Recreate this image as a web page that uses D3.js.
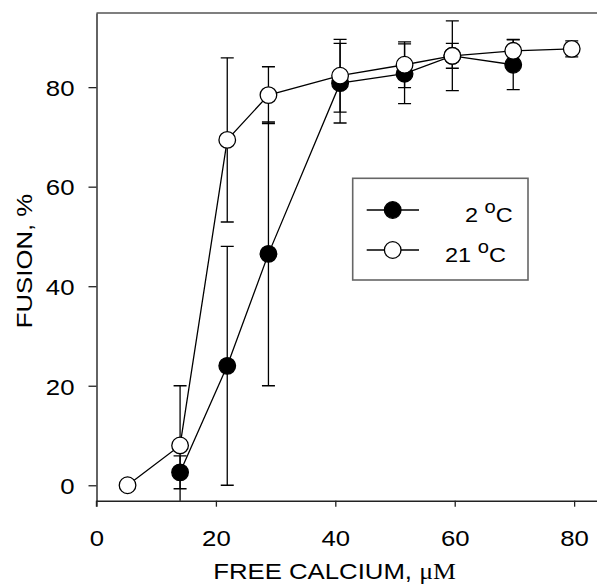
<!DOCTYPE html>
<html>
  <head>
    <meta charset="utf-8">
    <title>Fusion vs free calcium</title>
    <script src="https://d3js.org/d3.v7.min.js"></script>
    <style>
      body { margin: 0; background: #fff; }
    </style>
  </head>
  <body>
    <div id="chart"></div>
    <script>
      // Data
      const coldX = [14.0, 21.9, 28.8, 40.8, 51.6, 59.6, 69.8];
      const coldY = [2.6, 24.0, 46.5, 80.8, 82.7, 86.3, 84.5];
      const coldErr = [3.3, 24.0, 26.5, 8.0, 6.0, 2.5, 5.0];

      const warmX = [5.2, 14.0, 21.9, 28.8, 40.8, 51.6, 59.6, 69.8, 79.6];
      const warmY = [0, 8.0, 69.4, 78.4, 82.3, 84.5, 86.3, 87.3, 87.7];
      const warmErr = [0, 12.0, 16.5, 5.7, 7.3, 4.6, 7.0, 2.3, 1.6];

      const xTicks = [0, 20, 40, 60, 80];
      const yTicks = [0, 20, 40, 60, 80];

      const width = 597;
      const height = 584;
      const font = "Arial, 'Liberation Sans', sans-serif";
      const stretch = 1.12; // the original text is a bit wide

      const svg = d3.select("#chart")
        .append("svg")
        .attr("width", width)
        .attr("height", height);

      const x = d3.scaleLinear().domain([0, 84]).range([96.5, 598]);
      const y = d3.scaleLinear().domain([-3.1, 94.9]).range([500.7, 13]);

      // clip marks to plot area
      svg.append("clipPath").attr("id", "plot")
        .append("rect")
        .attr("x", x(0)).attr("y", y(94.9))
        .attr("width", x(84) - x(0)).attr("height", y(-3.1) - y(94.9));

      // top border
      svg.append("line")
        .attr("x1", x(0)).attr("x2", x(84))
        .attr("y1", y(94.9)).attr("y2", y(94.9))
        .attr("stroke", "#555").attr("stroke-width", 1.3);

      // axes
      const xAxis = svg.append("g")
        .attr("transform", `translate(0,${y(-3.1)})`)
        .call(d3.axisBottom(x).tickValues(xTicks).tickSize(6).tickSizeOuter(0));
      xAxis.selectAll("text")
        .attr("y", 0).attr("dy", null)
        .attr("transform", "translate(0,45) scale(" + stretch + ",1)");

      const yAxis = svg.append("g")
        .attr("transform", `translate(${x(0)},0)`)
        .call(d3.axisLeft(y).tickValues(yTicks).tickSize(8).tickSizeOuter(0));
      yAxis.selectAll("text")
        .attr("x", 0).attr("dy", "0.36em")
        .attr("transform", "translate(-22,0) scale(" + stretch + ",1)");

      svg.selectAll(".domain").attr("stroke", "#222").attr("stroke-width", 1.4);
      svg.selectAll(".tick line").attr("stroke", "#222").attr("stroke-width", 1.3);
      svg.selectAll(".tick text")
        .attr("fill", "#000")
        .attr("font-family", font)
        .attr("font-size", 23);

      // extend left axis to cover the x tick zone
      svg.append("line")
        .attr("x1", x(0)).attr("x2", x(0))
        .attr("y1", y(-3.1)).attr("y2", y(-3.1) + 6)
        .attr("stroke", "#222").attr("stroke-width", 1.4);

      const marks = svg.append("g").attr("clip-path", "url(#plot)");

      function errorBars(xs, ys, es) {
        const g = marks.append("g").attr("stroke", "#000").attr("stroke-width", 1.3);
        const cap = 6.5;
        xs.forEach((xv, i) => {
          if (!es[i]) return;
          const px = x(xv);
          const lo = y(ys[i] - es[i]);
          const hi = y(ys[i] + es[i]);
          g.append("line").attr("x1", px).attr("x2", px).attr("y1", lo).attr("y2", hi);
          g.append("line").attr("x1", px - cap).attr("x2", px + cap).attr("y1", lo).attr("y2", lo);
          g.append("line").attr("x1", px - cap).attr("x2", px + cap).attr("y1", hi).attr("y2", hi);
        });
      }

      function series(xs, ys, fill) {
        const pts = xs.map((xv, i) => [xv, ys[i]]);
        marks.append("path")
          .datum(pts)
          .attr("fill", "none")
          .attr("stroke", "#000")
          .attr("stroke-width", 1.3)
          .attr("d", d3.line().x(d => x(d[0])).y(d => y(d[1])));
        marks.append("g").selectAll("circle")
          .data(pts)
          .join("circle")
          .attr("cx", d => x(d[0]))
          .attr("cy", d => y(d[1]))
          .attr("r", 8.3)
          .attr("fill", fill)
          .attr("stroke", "#000")
          .attr("stroke-width", 1.3);
      }

      errorBars(coldX, coldY, coldErr);
      errorBars(warmX, warmY, warmErr);
      series(coldX, coldY, "#000");
      series(warmX, warmY, "#fff");

      // legend
      const legend = svg.append("g");
      legend.append("rect")
        .attr("x", 352.7).attr("y", 178.3)
        .attr("width", 175.3).attr("height", 101.7)
        .attr("fill", "#fff")
        .attr("stroke", "#666").attr("stroke-width", 1.6);

      const entries = [
        { label: "2", fill: "#000", ty: 210, tx: 465 },
        { label: "21", fill: "#fff", ty: 250, tx: 445 }
      ];
      entries.forEach(e => {
        legend.append("line")
          .attr("x1", 366.7).attr("x2", 419)
          .attr("y1", e.ty).attr("y2", e.ty)
          .attr("stroke", "#000").attr("stroke-width", 1.5);
        legend.append("circle")
          .attr("cx", 392.7).attr("cy", e.ty).attr("r", 8.3)
          .attr("fill", e.fill).attr("stroke", "#000").attr("stroke-width", 1.3);
        const t = legend.append("text")
          .attr("transform", `translate(${e.tx},${e.ty + 12}) scale(${stretch},1)`)
          .attr("font-family", font)
          .attr("font-size", 21)
          .attr("fill", "#000");
        t.append("tspan").text(e.label + " ");
        t.append("tspan").attr("dy", -9).attr("font-size", 18).text("o");
        t.append("tspan").attr("dy", 9).text("C");
      });

      // axis titles
      const xTitle = svg.append("text")
        .attr("transform", `translate(${(213 + 456) / 2},579) scale(${stretch},1)`)
        .attr("text-anchor", "middle")
        .attr("font-family", font)
        .attr("font-size", 23)
        .attr("fill", "#000");
      xTitle.append("tspan").text("FREE CALCIUM, ");
      xTitle.append("tspan").attr("font-family", "'Liberation Serif', 'Times New Roman', serif").text("μM");

      svg.append("text")
        .attr("transform", `translate(32,261) rotate(-90) scale(${stretch},1)`)
        .attr("text-anchor", "middle")
        .attr("font-family", font)
        .attr("font-size", 23)
        .attr("fill", "#000")
        .text("FUSION, %");
    </script>
  </body>
</html>
